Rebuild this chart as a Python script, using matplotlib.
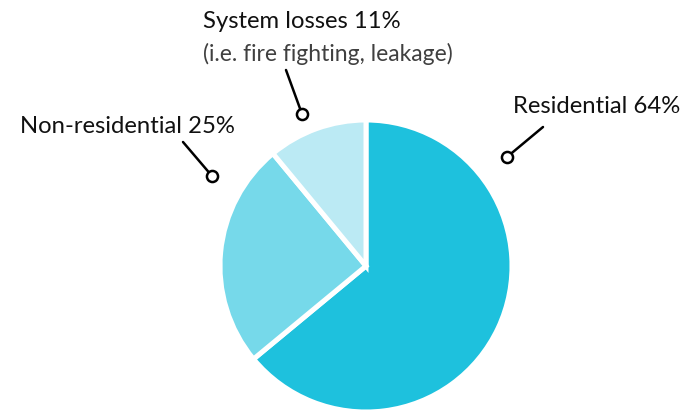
import matplotlib
matplotlib.use("Agg")
import matplotlib.pyplot as plt

# ── data ────────────────────────────────────────────────────────────────
labels = ["Residential", "Non-residential", "System losses"]
shares = [64, 25, 11]
colors = ["#1ec1dd", "#76d9ea", "#bbeaf4"]
note = "(i.e. fire fighting, leakage)"

W, H = 686, 411
plt.rcParams["font.family"] = ["Lato", "DejaVu Sans"]

fig = plt.figure(figsize=(W / 100, H / 100), dpi=100)
ax = fig.add_axes([0, 0, 1, 1])

def py(y):  # pixel row -> axes y
    return H - y

ax.pie(shares, colors=colors, startangle=90, counterclock=False,
       center=(366, py(266)), radius=146, frame=True,
       wedgeprops=dict(edgecolor="white", linewidth=3.6))
ax.set_xlim(0, W)
ax.set_ylim(0, H)
ax.set_aspect("equal")
ax.axis("off")

# label text, line start, circle position (pixels)
label_pos = [(513, 113, "left"), (20, 133, "left"), (203, 28, "left")]
line_from = [(543, 127), (183, 142), (286, 70)]
dot_at = [(507, 157), (212, 176), (302, 114)]

for lab, v, (tx, ty, ha), (lx, ly), (dx, dy) in zip(labels, shares, label_pos, line_from, dot_at):
    ax.text(tx, py(ty), f"{lab} {v}%", fontsize=17.2, ha=ha, va="baseline", color="#111111")
    ax.plot([lx, dx], [py(ly), py(dy)], color="black", lw=1.8, solid_capstyle="round", zorder=4)
    ax.plot(dx, py(dy), "o", ms=8, mfc="white", mec="black", mew=1.8, zorder=5)

ax.text(203, py(61), note, fontsize=16.5, color="#404040",
        ha="left", va="baseline")

fig.savefig("out.png", dpi=100)
